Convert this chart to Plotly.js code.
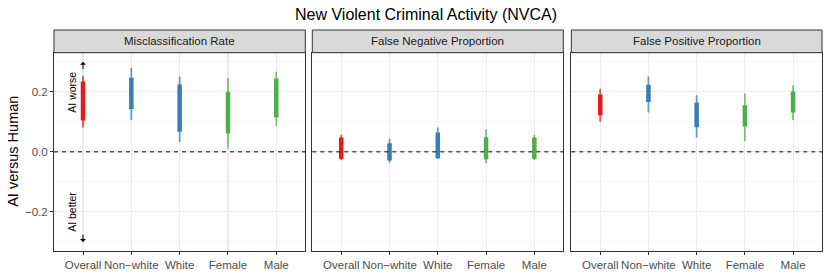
<!DOCTYPE html>
<html><head><meta charset="utf-8">
<script src="https://cdn.plot.ly/plotly-3.0.1.min.js"></script>
<style>html,body{margin:0;padding:0;background:#fff}#chart{width:830px;height:277px}</style>
</head><body><div id="chart"></div>
<script>
const chartTitle = 'New Violent Criminal Activity (NVCA)';
const yTitle = 'AI versus Human';
const panels = ['Misclassification Rate', 'False Negative Proportion', 'False Positive Proportion'];
const categories = ['Overall', 'Non\u2212white', 'White', 'Female', 'Male'];
const catColors = ['#E41A1C', '#377EB8', '#377EB8', '#4DAF4A', '#4DAF4A'];
const yTickVals = [-0.2, 0, 0.2];
const yTickText = ['\u22120.2', '0.0', '0.2'];
const yMinorVals = [-0.3, -0.1, 0.1, 0.3];

// Misclassification Rate
const misLo95 = [0.081, 0.106, 0.033, 0.011, 0.087];
const misHi95 = [0.253, 0.279, 0.251, 0.246, 0.267];
const misLo50 = [0.104, 0.143, 0.067, 0.062, 0.115];
const misHi50 = [0.234, 0.247, 0.224, 0.200, 0.244];
// False Negative Proportion
const fnLo95 = [-0.027, -0.036, -0.023, -0.038, -0.027];
const fnHi95 = [0.057, 0.044, 0.081, 0.075, 0.057];
const fnLo50 = [-0.023, -0.029, -0.021, -0.025, -0.023];
const fnHi50 = [0.048, 0.029, 0.064, 0.049, 0.048];
// False Positive Proportion
const fpLo95 = [0.100, 0.131, 0.048, 0.035, 0.106];
const fpHi95 = [0.210, 0.251, 0.188, 0.194, 0.221];
const fpLo50 = [0.122, 0.166, 0.082, 0.084, 0.131];
const fpHi50 = [0.191, 0.223, 0.164, 0.155, 0.201];

const panelData = [
  [misLo95, misHi95, misLo50, misHi50],
  [fnLo95, fnHi95, fnLo50, fnHi50],
  [fpLo95, fpHi95, fpLo50, fpHi50]
];

const W = 830, H = 277;
const mL = 54, mR = 8, mT = 30, mB = 26;
const pw = W - mL - mR, ph = H - mT - mB;
const px = v => (v - mL) / pw;
const py = v => (H - mB - v) / ph;
const panelPx = [[54, 305.3], [312.3, 563.3], [571.3, 822]];
const stripTop = 30, stripBot = 52.7;
const yDomTop = py(stripBot);

const traces = [];
panelData.forEach((d, p) => {
  const xa = p === 0 ? 'x' : 'x' + (p + 1);
  const ya = p === 0 ? 'y' : 'y' + (p + 1);
  categories.forEach((c, i) => {
    traces.push({x: [i + 1, i + 1], y: [d[0][i], d[1][i]], xaxis: xa, yaxis: ya, mode: 'lines',
      line: {color: catColors[i], width: 1.8}, opacity: 0.75, hoverinfo: 'skip', showlegend: false});
    traces.push({x: [i + 1, i + 1], y: [d[2][i], d[3][i]], xaxis: xa, yaxis: ya, mode: 'lines',
      line: {color: catColors[i], width: 4.5}, hoverinfo: 'skip', showlegend: false});
  });
});

const layout = {
  width: W, height: H,
  margin: {l: mL, r: mR, t: mT, b: mB, pad: 0},
  paper_bgcolor: '#fff', plot_bgcolor: '#fff',
  font: {family: 'Liberation Sans, Arial, sans-serif', color: '#1A1A1A'},
  showlegend: false,
  shapes: [], annotations: []
};

panelData.forEach((d, p) => {
  const sfx = p === 0 ? '' : String(p + 1);
  layout['xaxis' + sfx] = {
    domain: [px(panelPx[p][0]), px(panelPx[p][1])],
    anchor: 'y' + sfx, range: [0.4, 5.6],
    tickmode: 'array', tickvals: categories.map((c, i) => i + 1), ticktext: categories,
    ticks: 'outside', ticklen: 3, tickwidth: 1, tickcolor: '#333333',
    tickfont: {size: 11.5, color: '#4D4D4D'},
    showgrid: true, gridcolor: '#EBEBEB', gridwidth: 1.1,
    showline: true, mirror: true, linecolor: '#333333', linewidth: 1, zeroline: false, fixedrange: true
  };
  layout['yaxis' + sfx] = {
    domain: [0, yDomTop], anchor: 'x' + sfx, range: [-0.33, 0.33],
    tickmode: 'array', tickvals: yTickVals, ticktext: yTickText,
    showticklabels: p === 0, ticks: p === 0 ? 'outside' : '', ticklen: 3, tickcolor: '#333333',
    tickfont: {size: 11.5, color: '#4D4D4D'},
    showgrid: true, gridcolor: '#EBEBEB', gridwidth: 1.1,
    minor: {tickmode: 'array', tickvals: yMinorVals, showgrid: true, gridcolor: '#F2F2F2', gridwidth: 0.6},
    showline: true, mirror: true, linecolor: '#333333', linewidth: 1, zeroline: false, fixedrange: true
  };
  layout.shapes.push({type: 'line', xref: 'x' + sfx + ' domain', yref: 'y' + sfx, x0: 0, x1: 1, y0: 0, y1: 0,
    line: {color: '#000', width: 1, dash: '4px,4px'}, layer: 'above'});
  layout.shapes.push({type: 'rect', xref: 'paper', yref: 'paper',
    x0: px(panelPx[p][0]), x1: px(panelPx[p][1]), y0: py(stripBot), y1: py(stripTop),
    fillcolor: '#D9D9D9', line: {color: '#333333', width: 1}});
  layout.annotations.push({xref: 'paper', yref: 'paper', x: px((panelPx[p][0] + panelPx[p][1]) / 2),
    y: py((stripTop + stripBot) / 2), text: panels[p], showarrow: false, xanchor: 'center', yanchor: 'middle',
    font: {size: 11.5, color: '#1A1A1A'}});
});

layout.annotations.push({xref: 'paper', yref: 'paper', x: px(426), y: py(14), text: chartTitle,
  showarrow: false, xanchor: 'center', yanchor: 'middle', font: {size: 16, color: '#000'}});
layout.annotations.push({xref: 'paper', yref: 'paper', x: px(13), y: py((stripBot + H - mB) / 2), text: yTitle,
  textangle: -90, showarrow: false, xanchor: 'center', yanchor: 'middle', font: {size: 14.5, color: '#000'}});
layout.annotations.push({xref: 'x', yref: 'y', x: 0.77, y: 0.2, text: 'AI worse', textangle: -90,
  showarrow: false, xanchor: 'center', yanchor: 'middle', font: {size: 10.5, color: '#000'}});
layout.annotations.push({xref: 'x', yref: 'y', x: 0.77, y: -0.2, text: 'AI better', textangle: -90,
  showarrow: false, xanchor: 'center', yanchor: 'middle', font: {size: 10.5, color: '#000'}});
layout.annotations.push({xref: 'x', yref: 'y', axref: 'x', ayref: 'y', x: 1, y: 0.3, ax: 1, ay: 0.27,
  text: '', showarrow: true, arrowhead: 1, arrowsize: 1, arrowwidth: 1, arrowcolor: '#000'});
layout.annotations.push({xref: 'x', yref: 'y', axref: 'x', ayref: 'y', x: 1, y: -0.3, ax: 1, ay: -0.27,
  text: '', showarrow: true, arrowhead: 1, arrowsize: 1, arrowwidth: 1, arrowcolor: '#000'});

Plotly.newPlot('chart', traces, layout, {staticPlot: true, displayModeBar: false});
</script></body></html>
